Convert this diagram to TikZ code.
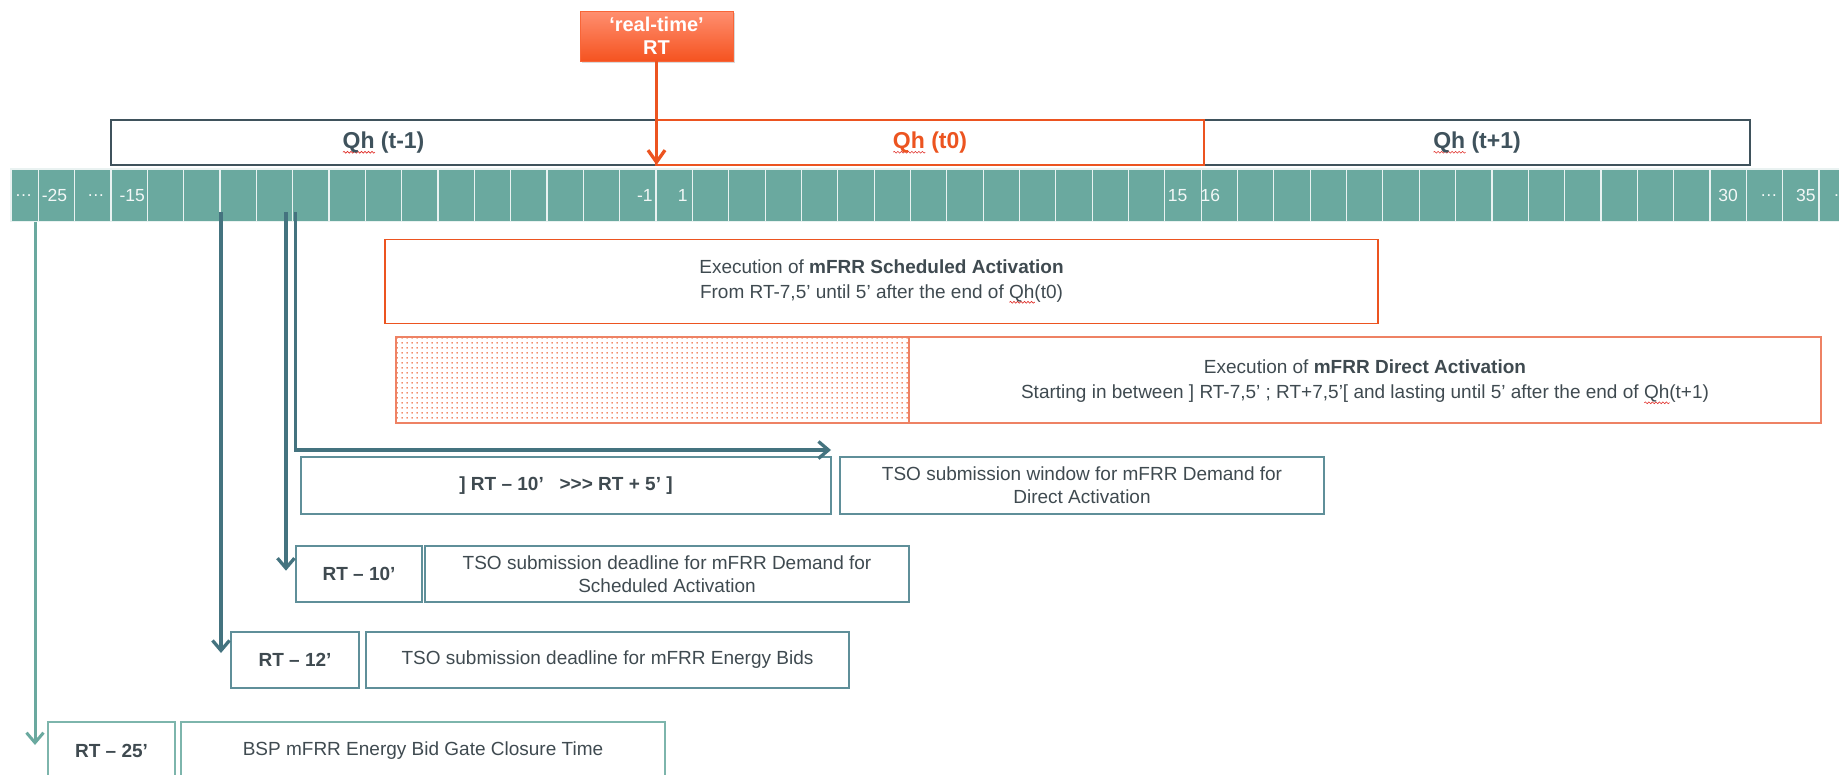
\documentclass[tikz,border=0pt]{standalone}
\usepackage{fontspec}
\setmainfont{Liberation Sans}
\usepackage{xcolor}
\usetikzlibrary{arrows.meta,patterns.meta,shadows,decorations.pathmorphing}

\definecolor{cellteal}{HTML}{6AA99F}
\definecolor{lightteal}{HTML}{7DB5AC}
\definecolor{steel}{HTML}{44737F}
\definecolor{boxline}{HTML}{5F8F99}
\definecolor{slate}{HTML}{3F525C}
\definecolor{txtgrey}{HTML}{3F4A50}
\definecolor{rtorange}{HTML}{EC5420}
\definecolor{lightorange}{HTML}{EE8264}
\definecolor{rttop}{HTML}{FF8F70}
\definecolor{rtbottom}{HTML}{F55320}
\definecolor{spellred}{HTML}{E0302A}

\newlength{\qhwd}
\newcommand{\qh}{\settowidth{\qhwd}{Qh}\rlap{\tikz[baseline=0pt,x=1pt,y=1pt]
    \draw[spellred,line width=0.6pt,decorate,decoration={snake,amplitude=0.9pt,segment length=3.5pt}]
    (0,-4pt) -- (\qhwd,-4pt);}Qh}

\tikzdeclarepattern{
  name=orangedots,
  type=uncolored,
  bounding box={(0pt,0pt) and (4.6pt,4.6pt)},
  tile size={(4.6pt,4.6pt)},
  code={\pgfpathcircle{\pgfqpoint{2.3pt}{2.3pt}}{0.9pt}\pgfusepath{fill}}
}

\begin{document}
\begin{tikzpicture}[x=1pt,y=-1pt,
    every node/.style={inner sep=0pt,outer sep=0pt,text=txtgrey,font=\fontsize{19}{23}\selectfont},
    cell/.style={fill=cellteal,draw=white!85!cellteal,line width=1.2pt,minimum width=36.34pt,minimum height=52.7pt},
    num/.style={text=white!92!cellteal,font=\fontsize{17.5}{20}\selectfont},
    qhbox/.style={draw=slate,line width=1.6pt,minimum height=45pt,text=slate,font=\fontsize{23}{27}\selectfont\bfseries},
    rtbox/.style={top color=rttop,bottom color=rtbottom,draw=rtbottom!70!rttop,line width=0.6pt,
        minimum width=153pt,minimum height=50pt,align=center,text=white,
        font=\fontsize{20}{23}\selectfont\bfseries,
        drop shadow={shadow xshift=2pt,shadow yshift=-2pt,opacity=.3}},
    execbox/.style={draw=rtorange,line width=1.3pt,minimum height=84pt,align=center,
        font=\fontsize{19}{25}\selectfont},
    infobox/.style={draw=boxline,line width=1.2pt,minimum height=56pt,align=center},
    lblbox/.style={infobox,font=\fontsize{19}{23}\selectfont\bfseries},
    dkarrow/.style={steel,line width=3.3pt,-{Straight Barb[length=10pt,width=17pt]}},
    tlarrow/.style={cellteal,line width=3pt,-{Straight Barb[length=10pt,width=17pt]}},
    rtarrow/.style={rtorange,line width=3.3pt,-{Straight Barb[length=12pt,width=17pt]}}
]
\useasboundingbox (0,0) rectangle (1839,774);

% time line
\node[cell,minimum width=27.3pt] (c0) at (24.65,195.35) {};
\foreach \k in {1,...,50}
    \node[cell] (c\k) at ({20.13+\k*36.34},195.35) {};
\foreach \k/\lbl/\dx in {0/\ldots/-1, 1/-25/-2, 2/\ldots/3, 3/-15/3, 17/-1/7, 18/1/8.5,
        32/15/-5.5, 33/16/-9, 47/30/0, 48/\ldots/4.5, 49/35/5, 50/\ldots/5}
    \node[num] at ([xshift=\dx pt]c\k.center) {\lbl};

% quarter hours
\node[qhbox,minimum width=545pt] (q1) at (383.5,142.5) {\qh\ (t-1)};
\node[qhbox,minimum width=546pt] (q2) at (1477,142.5) {\qh\ (t+1)};
\node[qhbox,draw=rtorange,text=rtorange,line width=1.3pt,minimum width=548pt] (q0) at (930,142.5) {\qh\ (t0)};

\node[rtbox] (rt) at (656.5,36) {‘real-time’\\RT};
\draw[rtarrow] (rt.south) -- (rt.south |- q0.south);

% activations
\node[execbox,minimum width=993pt] (sched) at (881.5,281.5)
    {Execution of \textbf{mFRR Scheduled Activation}\\From RT-7,5’ until 5’ after the end of \qh(t0)};
\node[execbox,draw=lightorange,minimum width=1425pt,minimum height=86pt] (direct) at (1108.5,380) {};
\node[draw=lightorange,line width=1.3pt,pattern=orangedots,pattern color=rtorange!90!white,
    minimum width=513pt,minimum height=86pt] (dots) at (652.5,380) {};
\node[align=center,font=\fontsize{19}{25}\selectfont] (dtxt) at (1365,382)
    {Execution of \textbf{mFRR Direct Activation}\\Starting in between ] RT-7,5’ ; RT+7,5’[ and lasting until 5’ after the end of \qh(t+1)};

% deadlines
\node[lblbox,minimum width=530pt,minimum height=57pt] (range) at (566,485.5)
    {] RT – 10’\ \ \ >\kern0pt>\kern0pt> RT + 5’ ]};
\node[infobox,minimum width=484pt,minimum height=57pt] (win) at (1082,485.5)
    {TSO submission window for mFRR Demand for\\Direct Activation};
\node[lblbox,minimum width=126pt] (rt10) at (359,574) {RT – 10’};
\node[infobox,minimum width=484pt] (d10) at (667,574)
    {TSO submission deadline for mFRR Demand for\\Scheduled Activation};
\node[lblbox,minimum width=128pt] (rt12) at (295,660) {RT – 12’};
\node[infobox,minimum width=483pt] (d12) at (607.5,660) {TSO submission deadline for mFRR Energy Bids};
\node[lblbox,draw=lightteal,minimum width=127pt,minimum height=57pt] (rt25) at (111.5,750.5) {RT – 25’};
\node[infobox,draw=lightteal,minimum width=484pt,minimum height=57pt] (d25) at (423,750.5)
    {BSP mFRR Energy Bid Gate Closure Time};

\coordinate (a25) at ([xshift=-3.3pt]c0.south east);
\coordinate (a12) at ([xshift=1pt,yshift=9.7pt]c6.south west);
\coordinate (a10) at ([xshift=-6.7pt,yshift=9.7pt]c8.south west);
\coordinate (aw) at ([xshift=2.8pt,yshift=9.7pt]c8.south west);

\draw[tlarrow,shorten >=5.5pt] (a25) -- (a25 |- rt25.west);
\draw[dkarrow,shorten >=7pt] (a12) -- (a12 |- rt12.west);
\draw[dkarrow,shorten >=3.3pt] (a10) -- (a10 |- rt10.west);
\draw[dkarrow] (aw) |- ([yshift=7pt]range.north east);
\end{tikzpicture}
\end{document}
